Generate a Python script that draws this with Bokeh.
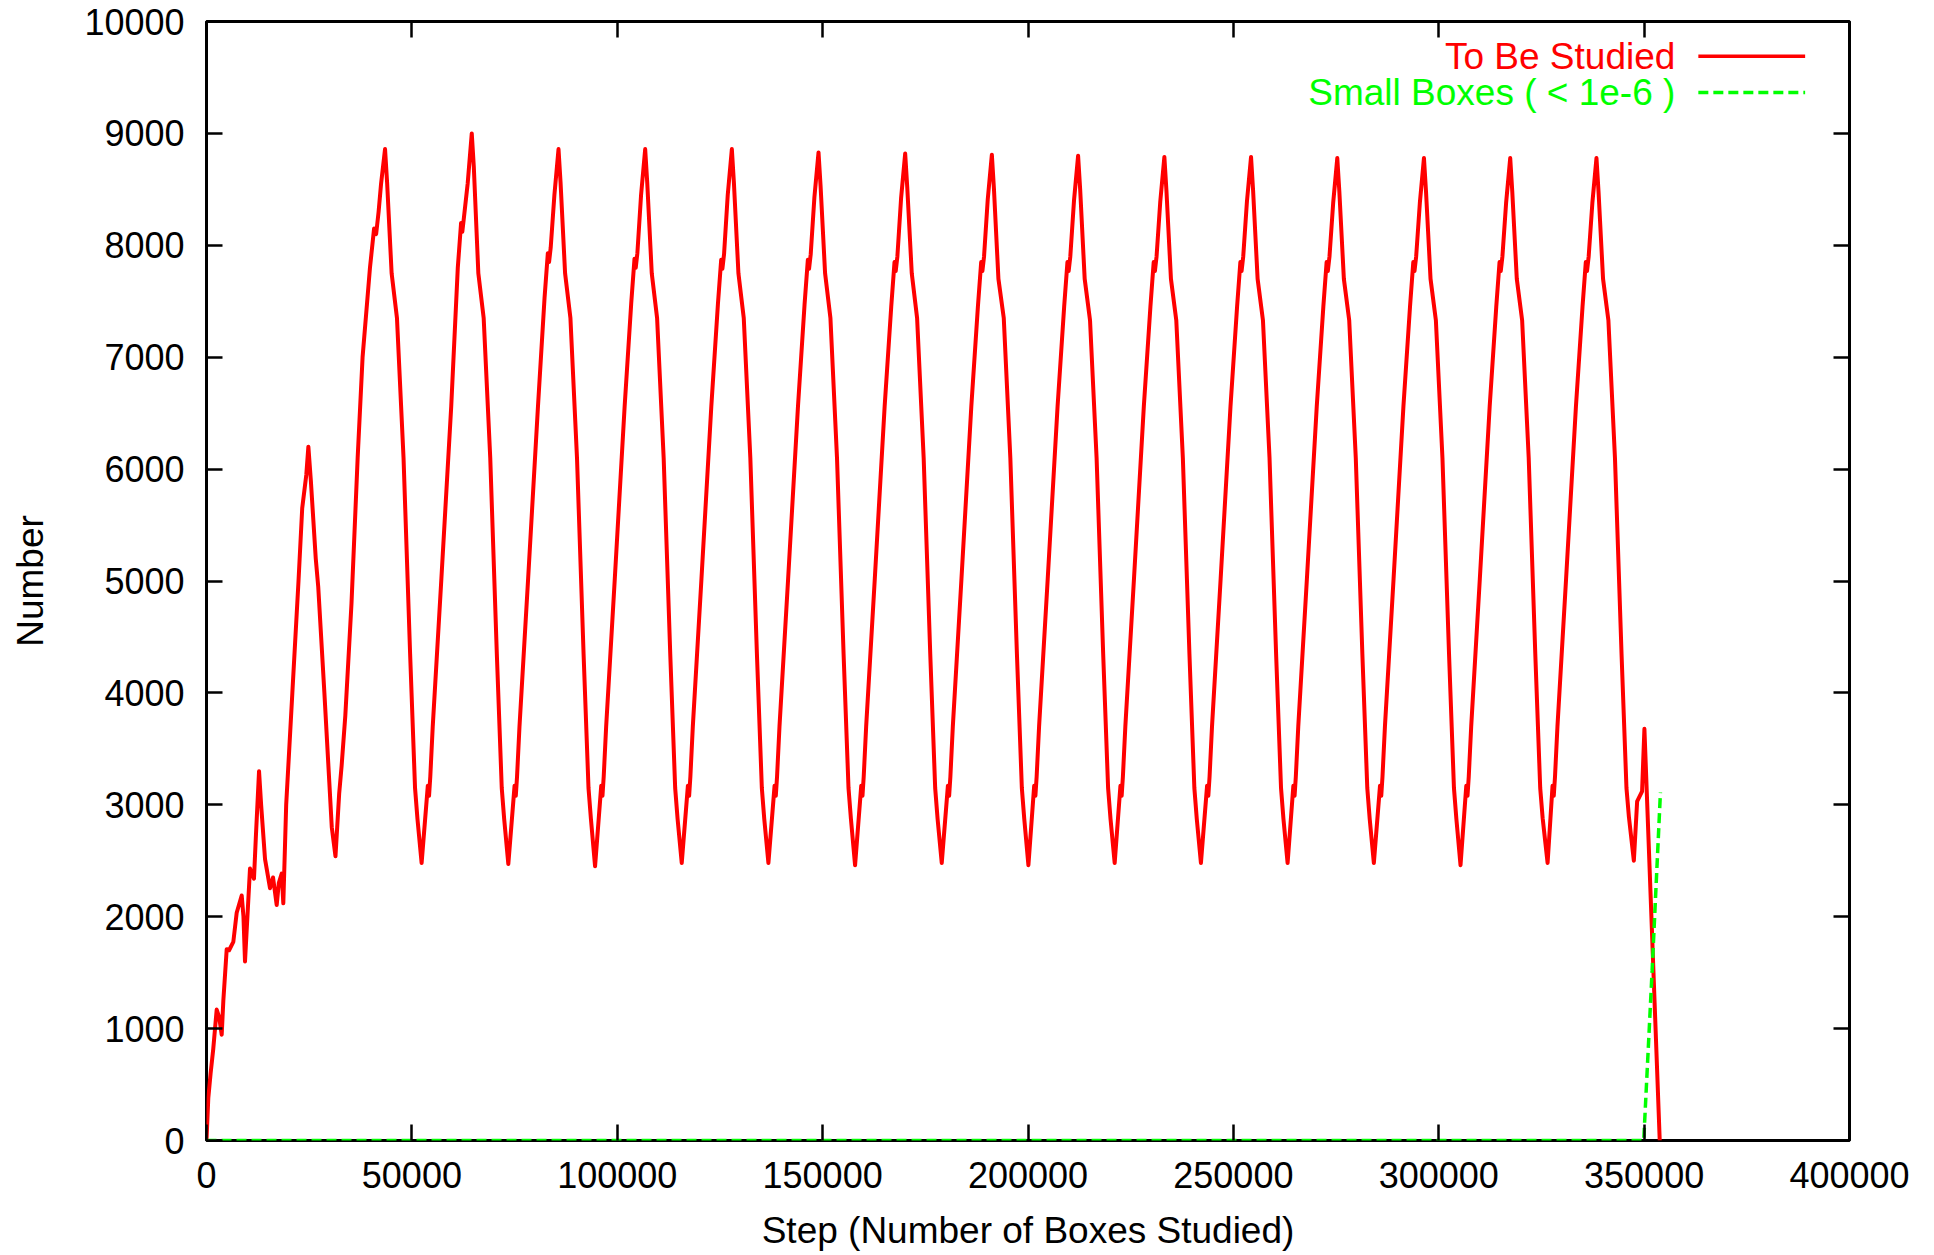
from bokeh.plotting import figure
from bokeh.models import Range1d, LinearAxis, FixedTicker, BasicTickFormatter, Label, Arrow
from bokeh.embed import file_html
from bokeh.resources import INLINE

# ---------------- data ----------------
x_ticks = [0, 50000, 100000, 150000, 200000, 250000, 300000, 350000, 400000]
y_ticks = [0, 1000, 2000, 3000, 4000, 5000, 6000, 7000, 8000, 9000, 10000]

# "To Be Studied" : start-up phase
studied_x_start = [0, 440, 1000, 1650, 2480, 3100, 3700, 4100, 4920, 5500, 6530, 7350, 8570, 9000,
                   9375, 10590, 11560, 12000, 12790, 13300, 14250, 15460, 16200, 17090, 17600,
                   18310, 18700, 19400, 20900, 22400, 23300, 24300, 24800, 25400, 26600, 27200,
                   28700, 29900, 30500, 31400, 32300, 32900, 33800, 35300, 36800, 38000, 39800,
                   40800, 41300, 41900, 42500]
studied_y_start = [0, 380, 600, 820, 1170, 1100, 945, 1250, 1710, 1700, 1775, 2035, 2190, 2000,
                   1600, 2430, 2340, 2700, 3300, 3000, 2515, 2255, 2350, 2105, 2300,
                   2385, 2120, 3000, 4000, 5000, 5650, 5950, 6200, 5900, 5200, 4950,
                   4000, 3200, 2800, 2540, 3100, 3350, 3800, 4800, 6100, 7000, 7800,
                   8150, 8100, 8300, 8550]

# "To Be Studied" : the 15 regular cycles (peak, fall, trough, rise)
studied_x_cycles = [
    43470, 43970, 45070, 46370, 47970, 49570, 50770, 51370, 52370,
    53880, 54180, 54480, 55080, 57180, 59580, 61180, 61980, 62280, 62680, 63580,
    64580, 65080, 66180, 67480, 69080, 70680, 71880, 72480, 73480,
    75000, 75300, 75600, 76200, 78300, 80700, 82300, 83100, 83400, 83800, 84700,
    85700, 86200, 87300, 88600, 90200, 91800, 93000, 93600, 94600,
    96100, 96400, 96700, 97300, 99400, 101800, 103400, 104200, 104500, 104900, 105800,
    106800, 107300, 108400, 109700, 111300, 112900, 114100, 114700, 115700,
    117200, 117500, 117800, 118400, 120500, 122900, 124500, 125300, 125600, 126000, 126900,
    127900, 128400, 129500, 130800, 132400, 134000, 135200, 135800, 136800,
    138300, 138600, 138900, 139500, 141600, 144000, 145600, 146400, 146700, 147100, 148000,
    149000, 149500, 150600, 151900, 153500, 155100, 156300, 156900, 157900,
    159400, 159700, 160000, 160600, 162700, 165100, 166700, 167500, 167800, 168200, 169100,
    170100, 170600, 171700, 173000, 174600, 176200, 177400, 178000, 179000,
    180500, 180800, 181100, 181700, 183800, 186200, 187800, 188600, 188900, 189300, 190200,
    191200, 191700, 192800, 194100, 195700, 197300, 198500, 199100, 200100,
    201500, 201800, 202100, 202700, 204800, 207200, 208800, 209600, 209900, 210300, 211200,
    212200, 212700, 213800, 215100, 216700, 218300, 219500, 220100, 221100,
    222500, 222800, 223100, 223700, 225800, 228200, 229800, 230600, 230900, 231300, 232200,
    233200, 233700, 234800, 236100, 237700, 239300, 240500, 241100, 242100,
    243600, 243900, 244200, 244800, 246900, 249300, 250900, 251700, 252000, 252400, 253300,
    254300, 254800, 255900, 257200, 258800, 260400, 261600, 262200, 263200,
    264600, 264900, 265200, 265800, 267900, 270300, 271900, 272700, 273000, 273400, 274300,
    275300, 275800, 276900, 278200, 279800, 281400, 282600, 283200, 284200,
    285700, 286000, 286300, 286900, 289000, 291400, 293000, 293800, 294100, 294500, 295400,
    296400, 296900, 298000, 299300, 300900, 302500, 303700, 304300, 305300,
    306700, 307000, 307300, 307900, 310000, 312400, 314000, 314800, 315100, 315500, 316400,
    317400, 317900, 319000, 320300, 321900, 323500, 324700, 325300, 326500,
    327700, 328000, 328300, 328900, 331000, 333400, 335000, 335800, 336100, 336500, 337400,
    338400, 338900, 340000, 341300, 342900, 344500, 345700, 346300, 347500,
]
studied_y_cycles = [
    8860, 8560, 7750, 7350, 6100, 4350, 3150, 2870, 2480,
    3170, 3080, 3250, 3700, 5020, 6560, 7800, 8200, 8120, 8250, 8550,
    9000, 8700, 7750, 7350, 6100, 4350, 3150, 2870, 2470,
    3170, 3080, 3250, 3700, 5020, 6560, 7530, 7930, 7850, 7980, 8450,
    8860, 8560, 7750, 7350, 6100, 4350, 3150, 2870, 2450,
    3170, 3080, 3250, 3700, 5020, 6560, 7480, 7880, 7800, 7930, 8450,
    8860, 8560, 7750, 7350, 6100, 4350, 3150, 2870, 2480,
    3170, 3080, 3250, 3700, 5020, 6560, 7470, 7870, 7790, 7920, 8450,
    8860, 8560, 7750, 7350, 6100, 4350, 3150, 2870, 2480,
    3170, 3080, 3250, 3700, 5020, 6560, 7470, 7870, 7790, 7920, 8430,
    8830, 8530, 7750, 7350, 6100, 4350, 3150, 2870, 2460,
    3170, 3080, 3250, 3700, 5020, 6560, 7450, 7850, 7770, 7900, 8420,
    8820, 8520, 7750, 7350, 6100, 4350, 3150, 2870, 2480,
    3170, 3080, 3250, 3700, 5020, 6560, 7450, 7850, 7770, 7900, 8410,
    8810, 8510, 7700, 7350, 6100, 4350, 3150, 2870, 2460,
    3170, 3080, 3250, 3700, 5020, 6560, 7450, 7850, 7770, 7900, 8400,
    8800, 8500, 7700, 7330, 6100, 4350, 3150, 2870, 2480,
    3170, 3080, 3250, 3700, 5020, 6560, 7450, 7850, 7770, 7900, 8390,
    8790, 8490, 7700, 7330, 6100, 4350, 3150, 2870, 2480,
    3170, 3080, 3250, 3700, 5020, 6560, 7450, 7850, 7770, 7900, 8390,
    8790, 8490, 7700, 7330, 6100, 4350, 3150, 2870, 2480,
    3170, 3080, 3250, 3700, 5020, 6560, 7450, 7850, 7770, 7900, 8380,
    8780, 8480, 7700, 7330, 6100, 4350, 3150, 2870, 2480,
    3170, 3080, 3250, 3700, 5020, 6560, 7450, 7850, 7770, 7900, 8380,
    8780, 8480, 7700, 7330, 6100, 4350, 3150, 2870, 2460,
    3170, 3080, 3250, 3700, 5020, 6560, 7450, 7850, 7770, 7900, 8380,
    8780, 8480, 7700, 7330, 6100, 4350, 3150, 2880, 2480,
    3170, 3080, 3250, 3700, 5020, 6560, 7450, 7850, 7770, 7900, 8380,
    8780, 8480, 7700, 7330, 6100, 4350, 3150, 2890, 2500,
]

# "To Be Studied" : final bump and drop to zero
studied_x_end = [348300, 349500, 350070, 353800]
studied_y_end = [3030, 3120, 3680, 0]

# "Small Boxes ( < 1e-6 )"
small_x = [0, 349900, 351950, 353970]
small_y = [0, 0, 1520, 3110]

studied_x = studied_x_start + studied_x_cycles + studied_x_end
studied_y = studied_y_start + studied_y_cycles + studied_y_end

series_names = ["To Be Studied", "Small Boxes ( < 1e-6 )"]
series_colors = ["#ff0000", "#00ff00"]

X_MAX = 400000
Y_MAX = 10000

FONT = "Liberation Sans"

# ---------------- figure ----------------
p = figure(width=1918, height=1255,
           x_range=Range1d(0, X_MAX), y_range=Range1d(0, Y_MAX),
           output_backend="svg", toolbar_location=None,
           min_border_left=206, min_border_right=69,
           min_border_top=21, min_border_bottom=115)

p.background_fill_color = "white"
p.border_fill_color = "white"
p.outline_line_color = "black"
p.outline_line_width = 3
p.xgrid.grid_line_color = None
p.ygrid.grid_line_color = None


def style_axis(ax, ticks, show_labels):
    ax.ticker = FixedTicker(ticks=ticks)
    ax.formatter = BasicTickFormatter(use_scientific=False)
    ax.axis_line_color = None
    ax.major_tick_in = 16
    ax.major_tick_out = 0
    ax.major_tick_line_color = "black"
    ax.major_tick_line_width = 2.5
    ax.minor_tick_line_color = None
    ax.major_label_text_font = FONT
    ax.axis_label_text_font = FONT
    ax.axis_label_text_font_style = "normal"
    ax.axis_label_text_color = "black"
    if show_labels:
        ax.major_label_text_color = "black"
        ax.major_label_text_font_size = "36px"
        ax.axis_label_text_font_size = "37px"
    else:
        ax.major_label_text_color = None
        ax.major_label_text_font_size = "1px"
        ax.major_label_standoff = 0


xa = p.xaxis[0]
style_axis(xa, x_ticks, True)
xa.axis_label = "Step (Number of Boxes Studied)"
xa.major_label_standoff = 21
xa.axis_label_standoff = 19

ya = p.yaxis[0]
style_axis(ya, y_ticks, True)
ya.axis_label = "Number"
ya.major_label_standoff = 22
ya.axis_label_standoff = 30

top_ax = LinearAxis()
style_axis(top_ax, x_ticks, False)
p.add_layout(top_ax, "above")

right_ax = LinearAxis()
style_axis(right_ax, y_ticks, False)
p.add_layout(right_ax, "right")

# ---------------- series ----------------
p.line(studied_x, studied_y, line_color=series_colors[0], line_width=4, line_join="round")
p.line(small_x, small_y, line_color=series_colors[1], line_width=3.5, line_dash="10 5")

# ---------------- legend (gnuplot style: text then sample) ----------------
leg_text_x = X_MAX * 0.894
leg_line_x0 = X_MAX * 0.908
leg_line_x1 = X_MAX * 0.973
leg_rows_y = [Y_MAX * 0.969, Y_MAX * 0.9365]
leg_dashes = [None, "10 5"]

for name, col, yy, dash in zip(series_names, series_colors, leg_rows_y, leg_dashes):
    p.add_layout(Label(x=leg_text_x, y=yy, text=name, text_align="right",
                       text_baseline="middle", text_color=col, text_font=FONT,
                       text_font_size="37px"))
    arr = Arrow(x_start=leg_line_x0, y_start=yy, x_end=leg_line_x1, y_end=yy,
                end=None, line_color=col, line_width=3.5)
    if dash:
        arr.line_dash = dash
    p.add_layout(arr)

open("out.html", "w").write(file_html(p, INLINE))
